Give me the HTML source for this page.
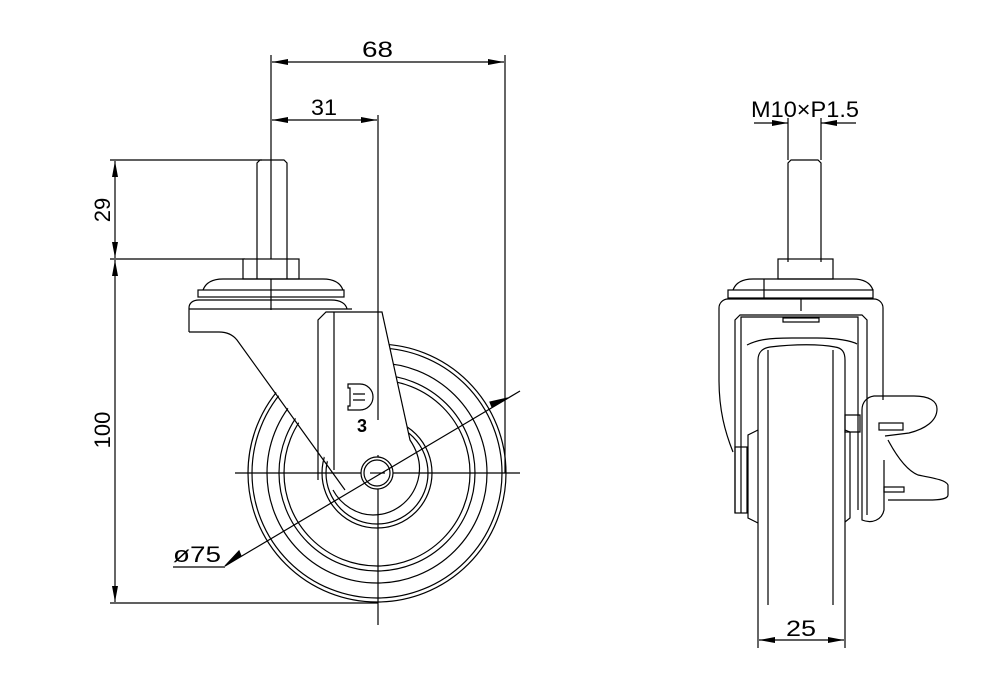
<!DOCTYPE html>
<html><head><meta charset="utf-8"><style>
html,body{margin:0;padding:0;background:#fff;}
svg{display:block}
text{font-family:"Liberation Sans",sans-serif;font-size:22px;fill:#000}
</style></head><body>
<svg width="994" height="691" viewBox="0 0 994 691" xmlns="http://www.w3.org/2000/svg">
<defs>
<marker id="a" viewBox="0 0 16 6" refX="16" refY="3" markerWidth="16" markerHeight="6" orient="auto-start-reverse" markerUnits="userSpaceOnUse"><path d="M0,0L16,3L0,6z" fill="#000"/></marker>
</defs>
<g fill="none" stroke="#000" stroke-width="1.2">
<!-- dimensions left view -->
<line x1="271" y1="55" x2="271" y2="310"/>
<line x1="505" y1="55" x2="505" y2="473"/>
<line x1="272" y1="62" x2="504" y2="62" marker-start="url(#a)" marker-end="url(#a)"/>
<line x1="272" y1="120" x2="377" y2="120" marker-start="url(#a)" marker-end="url(#a)"/>
<line x1="110" y1="160" x2="262" y2="160"/>
<line x1="110" y1="259" x2="245" y2="259"/>
<line x1="110" y1="603" x2="378" y2="603"/>
<line x1="115" y1="161" x2="115" y2="258" marker-start="url(#a)" marker-end="url(#a)"/>
<line x1="115" y1="260" x2="115" y2="602" marker-start="url(#a)" marker-end="url(#a)"/>
<!-- wheel -->
<circle cx="377" cy="473" r="129"/>
<circle cx="377" cy="473" r="125"/>
<circle cx="377" cy="473" r="110"/>
<circle cx="377" cy="473" r="98"/>
<circle cx="377" cy="473" r="93"/>
<circle cx="377" cy="473" r="55"/>
<circle cx="377" cy="473" r="51"/>
<!-- fork fill (occludes wheel) -->
<path d="M189,309V332h30c8,0 14,3 18,8L340,478c8,12 20,20 37,20c22,0 40,-15 42,-35c1,-10 -3,-18 -9,-25L382,312H326l-8,8V330H189z" fill="#fff" stroke="none"/>
<!-- stem/nut/plate -->
<path d="M257,262V163l3,-3h24l3,3V262"/>
<rect x="243" y="259" width="56" height="20" fill="#fff"/>
<line x1="257" y1="259" x2="257" y2="279"/><line x1="287" y1="259" x2="287" y2="279"/>
<path d="M203,290c3,-8 10,-11 20,-11h100c10,0 17,3 20,11"/>
<rect x="198" y="290" width="146" height="7"/>
<path d="M189,332V308c0,-5 4,-8 10,-8h132c10,0 15,4 16,9"/>
<line x1="189" y1="309" x2="352" y2="309"/>
<!-- fork arm -->
<path d="M189,332h30c8,0 14,3 18,8l108,150"/>
<path d="M318,480V320l8,-8h56l28,128c8,12 12,25 8,40c-6,22 -25,35 -45,35c-16,0 -32,-10 -40,-25"/>
<line x1="334" y1="312" x2="334" y2="470"/>
<!-- centerlines -->
<line x1="235" y1="473" x2="520" y2="473"/>
<line x1="378" y1="115" x2="378" y2="420"/>
<line x1="378" y1="455" x2="378" y2="625"/>
<circle cx="377" cy="473" r="16" fill="#fff"/>
<circle cx="377" cy="473" r="13"/>
<line x1="370" y1="473" x2="385" y2="473"/>
<!-- logo -->
<path d="M348,384h12a13,13 0 0 1 0,26h-12v-4h2v-18h-2z"/>
<path d="M353,394h12M353,400h12"/>
<!-- diameter leader -->
<line x1="225" y1="566" x2="520" y2="391"/>
<path d="M225,566l16,-10l-2,-5z" fill="#000"/>
<path d="M508,398l-16,9l-2,-5z" fill="#000"/>
<line x1="173" y1="567" x2="225" y2="567"/>
<!-- right view -->
<line x1="788" y1="118" x2="788" y2="160"/>
<line x1="821" y1="118" x2="821" y2="160"/>
<line x1="754" y1="123" x2="788" y2="123" marker-end="url(#a)"/>
<line x1="856" y1="123" x2="821" y2="123" marker-end="url(#a)"/>
<path d="M788,262V163l3,-3h27l3,3V262"/>
<rect x="778" y="259" width="55" height="20"/>
<path d="M733,290c3,-8 10,-11 20,-11h100c10,0 17,3 20,11"/>
<rect x="728" y="290" width="145" height="8"/>
<line x1="764" y1="279" x2="764" y2="298"/>
<path d="M733,452C725,432 719,410 719,380V308c0,-5 4,-9 9,-9h146c5,0 9,4 9,9V400"/>
<line x1="801" y1="299" x2="801" y2="311"/>
<path d="M735,513V320l5,-5h122l5,5V515"/>
<path d="M741,513V317h117V510"/>
<rect x="735" y="447" width="12" height="66"/>
<rect x="783" y="318" width="36" height="4"/>
<path d="M747,345c10,-5 20,-7 45,-7h25c20,0 35,3 40,6"/>
<path d="M758,605V360c0,-8 5,-12 12,-13c25,-3 50,-3 65,0c7,1 10,5 10,13V605"/>
<line x1="768" y1="350" x2="768" y2="605"/>
<line x1="833" y1="350" x2="833" y2="605"/>
<path d="M758,430l-10,5V518l10,5"/>
<path d="M845,430l5,2V518l-5,4"/>
<path d="M845,415h15v17h-15z"/>
<path d="M862,410c0,-8 5,-13 12,-14h40c15,0 23,5 23,13c0,12 -12,20 -28,24l-24,3"/>
<path d="M888,440c8,15 18,30 30,35c15,3 28,5 30,10v10c0,4 -8,5 -20,5h-40"/>
<path d="M862,410V520c10,4 20,0 22,-10V460"/>
<rect x="879" y="423" width="24" height="7"/>
<rect x="884" y="487" width="20" height="5"/>
<line x1="758" y1="605" x2="758" y2="648"/>
<line x1="845" y1="605" x2="845" y2="648"/>
<line x1="759" y1="640" x2="844" y2="640" marker-start="url(#a)" marker-end="url(#a)"/>
</g>
<text x="362" y="57" textLength="31" lengthAdjust="spacingAndGlyphs">68</text>
<text x="311" y="115" textLength="26" lengthAdjust="spacingAndGlyphs">31</text>
<text x="110" y="210" transform="rotate(-90 110 210)" text-anchor="middle">29</text>
<text x="110" y="430" transform="rotate(-90 110 430)" text-anchor="middle">100</text>
<text x="173" y="562" textLength="48" lengthAdjust="spacingAndGlyphs">ø75</text>
<text x="751" y="117" textLength="108" lengthAdjust="spacingAndGlyphs">M10×P1.5</text>
<text x="786" y="636" textLength="30" lengthAdjust="spacingAndGlyphs">25</text>
<text x="357" y="432" style="font-size:18px;font-weight:bold">3</text>
</svg>
</body></html>
